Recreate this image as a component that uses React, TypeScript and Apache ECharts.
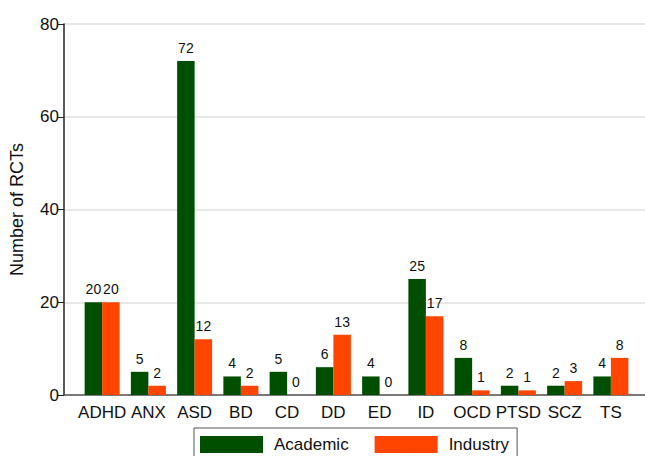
import React, { useEffect, useRef } from "react";
import * as echarts from "echarts";

const categories = ["ADHD", "ANX", "ASD", "BD", "CD", "DD", "ED", "ID", "OCD", "PTSD", "SCZ", "TS"];
const academic = [20, 5, 72, 4, 5, 6, 4, 25, 8, 2, 2, 4];
const industry = [20, 2, 12, 2, 0, 13, 0, 17, 1, 1, 3, 8];
const yTicks = { min: 0, max: 80, interval: 20 };

const FONT = "'Liberation Sans', Arial, sans-serif";

export default function App() {
  const ref = useRef<HTMLDivElement>(null);
  useEffect(() => {
    if (!ref.current) return;
    const chart = echarts.init(ref.current, null, { renderer: "svg" });
    const top = 24;
    const bottom = 61;
    chart.setOption({
      animation: false,
      backgroundColor: "#ffffff",
      textStyle: { fontFamily: FONT },
      grid: [
        { left: 79, right: 11, top, bottom },
        { left: 64, right: 0, top, bottom },
      ],
      xAxis: [
        {
          type: "category",
          gridIndex: 0,
          data: categories,
          axisLine: { show: false },
          axisTick: { show: false },
          axisLabel: { fontSize: 17, color: "#111", margin: 9, fontFamily: FONT, interval: 0 },
        },
        {
          type: "value",
          gridIndex: 1,
          min: 0,
          max: 1,
          axisLine: { show: true, onZero: false, lineStyle: { color: "#555", width: 1.5 } },
          axisTick: { show: false },
          axisLabel: { show: false },
          splitLine: { show: false },
        },
      ],
      yAxis: [
        {
          type: "value",
          gridIndex: 0,
          min: yTicks.min,
          max: yTicks.max,
          interval: yTicks.interval,
          axisLine: { show: false },
          axisTick: { show: false },
          axisLabel: { show: false },
          splitLine: { show: false },
        },
        {
          type: "value",
          gridIndex: 1,
          min: yTicks.min,
          max: yTicks.max,
          interval: yTicks.interval,
          name: "Number of RCTs",
          nameLocation: "middle",
          nameGap: 38,
          nameTextStyle: { fontSize: 18, color: "#111", fontFamily: FONT },
          axisLine: { show: true, lineStyle: { color: "#222", width: 1.5 } },
          axisTick: { show: true, length: 6, lineStyle: { color: "#222" } },
          axisLabel: { fontSize: 17, color: "#111", margin: 5, fontFamily: FONT },
          splitLine: { show: true, lineStyle: { color: "#e0e0e0", width: 1.5 } },
        },
      ],
      legend: {
        left: 194,
        top: 428,
        orient: "horizontal",
        data: ["Academic", "Industry"],
        itemWidth: 63,
        itemHeight: 17,
        itemGap: 26,
        padding: [8, 8, 14, 6],
        borderColor: "#555",
        borderWidth: 1,
        borderRadius: 0,
        icon: "rect",
        textStyle: { fontSize: 17, color: "#111", fontFamily: FONT, padding: [0, 0, 0, 6] },
      },
      series: [
        {
          name: "Academic",
          type: "bar",
          xAxisIndex: 0,
          yAxisIndex: 0,
          data: academic,
          barWidth: 17.5,
          barGap: "0%",
          itemStyle: { color: "#004f00" },
          label: { show: true, position: "top", fontSize: 14, color: "#111", distance: 6, fontFamily: FONT },
        },
        {
          name: "Industry",
          type: "bar",
          xAxisIndex: 0,
          yAxisIndex: 0,
          data: industry,
          barWidth: 17.5,
          barGap: "0%",
          itemStyle: { color: "#ff4500" },
          label: { show: true, position: "top", fontSize: 14, color: "#111", distance: 6, fontFamily: FONT },
        },
      ],
    });
    return () => chart.dispose();
  }, []);
  return <div ref={ref} style={{ width: 645, height: 456, position: "absolute", left: 0, top: 0 }} />;
}
